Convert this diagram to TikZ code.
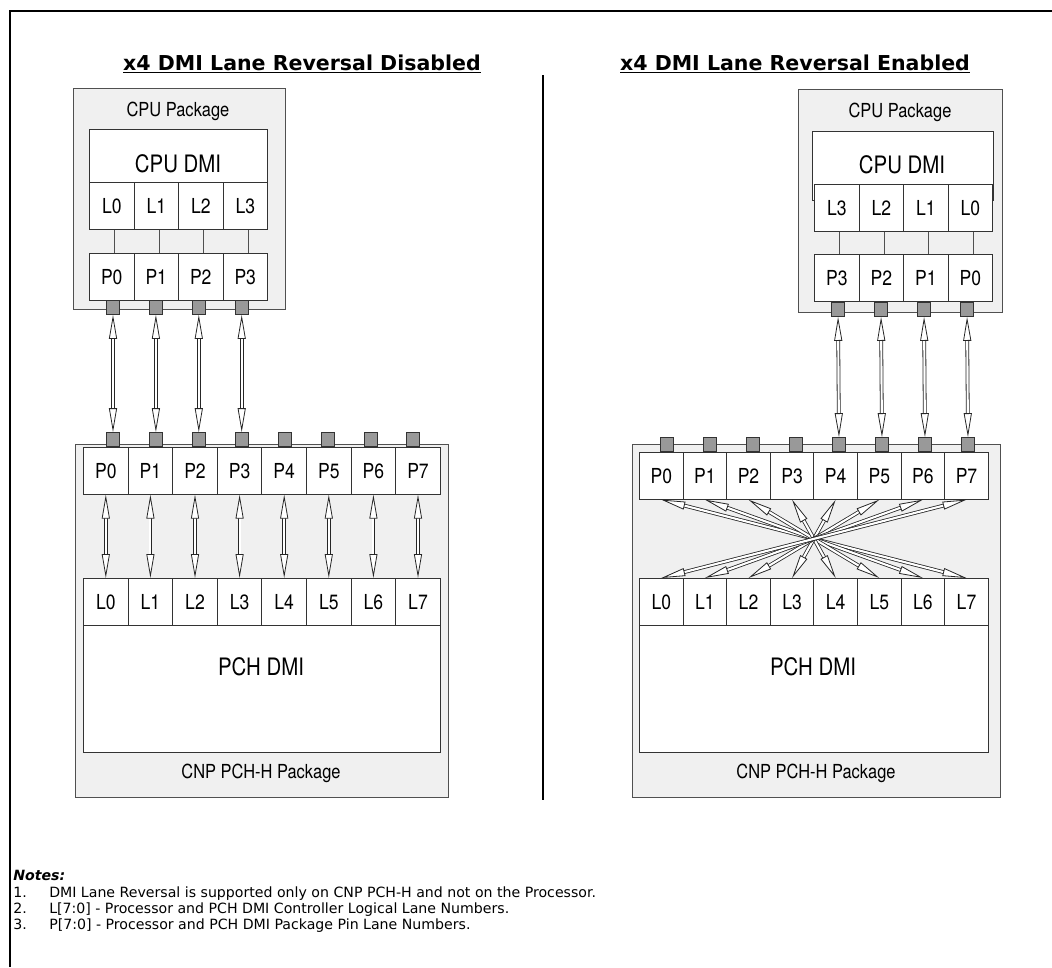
\documentclass[tikz,border=0pt]{standalone}
\usepackage{fontspec}
\setmainfont{Liberation Sans}
\newfontfamily\boxfont{TeX Gyre Heros}[FakeStretch=0.85]
\newfontfamily\headfont{DejaVu Sans}
\usetikzlibrary{arrows.meta,positioning}
\definecolor{pkgGray}{RGB}{240,240,240}
\definecolor{padGray}{RGB}{153,153,153}
\definecolor{edgeGray}{RGB}{80,80,80}
\tikzset{
    pkg/.style={rectangle, draw=edgeGray, fill=pkgGray, line width=1.1pt,
                anchor=north west, inner sep=0pt},
    dmi/.style={rectangle, draw=black!80, fill=white, line width=0.75pt,
                anchor=north west, inner sep=0pt},
    cell/.style={rectangle, draw=black!80, fill=white, line width=0.75pt,
                 anchor=north west, inner sep=0pt, minimum height=35pt,
                 minimum width=#1, font=\boxfont\fontsize{15.5}{18}\selectfont},
    pad/.style={rectangle, draw=black!80, fill=padGray, line width=0.6pt,
                minimum width=9.75pt, minimum height=10.5pt, inner sep=0pt},
    lbl/.style={font=\boxfont\fontsize{14.5}{17}\selectfont},
    big/.style={font=\boxfont\fontsize{18}{21}\selectfont},
    wire/.style={draw=edgeGray, line width=0.6pt},
    link/.style={draw=black!85, line width=0.6pt, double=white, double distance=1.6pt,
                 {Triangle[open, fill=white, length=18pt, width=6pt]}-{Triangle[open, fill=white, length=18pt, width=6pt]}},
    title/.style={font=\headfont\bfseries\fontsize{15.4}{18}\selectfont, anchor=base, inner sep=0pt},
    note/.style={font=\headfont\fontsize{10.6}{12}\selectfont, anchor=base west, inner sep=0pt}
}
\begin{document}
\begin{tikzpicture}[x=0.75pt, y=-0.75pt]
  \useasboundingbox (0,0) rectangle (1052,967);
  \draw[line width=2.2pt] (10,967) -- (10,11) -- (1052,11);

  % titles and divider
  \node[title] (titleA) at (302,70) {\underline{x4 DMI Lane Reversal Disabled}};
  \node[title] (titleB) at (795,70) {\underline{x4 DMI Lane Reversal Enabled}};
  \coordinate (divTop) at (543,75);
  \coordinate (divBot) at (543,800);
  \draw[line width=2.2pt] (divTop) -- (divBot);

  % left: CPU package
  \node[pkg, minimum width=159pt, minimum height=165.75pt] (cpuA) at (73,88) {};
  \node[lbl] (cpuAtxt) at (178,111) {CPU Package};
  \node[dmi, minimum width=133.5pt, minimum height=39.75pt] (cpuAdmi) at (89,129) {};
  \node[big] (cpuAdmitxt) at (178,164) {CPU DMI};
  \foreach \i in {0,...,3} {
    \node[cell=33.4pt] (cpuAL\i) at ({89+44.5*\i},182) {L\i};
    \node[cell=33.4pt] (cpuAP\i) at ({89+44.5*\i},253) {P\i};
    \draw[wire] ([xshift=2pt]cpuAL\i.south) -- ([xshift=2pt]cpuAP\i.north);
    \node[pad, anchor=north] (cpuApad\i) at ({113+42.9*\i},300) {};
  }

  % left: PCH package
  \node[pkg, minimum width=279.75pt, minimum height=264.75pt] (pchA) at (75,444) {};
  \node[dmi, minimum width=267.75pt, minimum height=95.25pt] (pchAdmi) at (83,625) {};
  \node[big] (pchAdmitxt) at (261,667) {PCH DMI};
  \node[lbl] (pchAtxt) at (261,773) {CNP PCH-H Package};
  \foreach \i in {0,...,7} {
    \node[cell=33.45pt] (pchAP\i) at ({83+44.6*\i},447) {P\i};
    \node[cell=33.45pt] (pchAL\i) at ({83+44.6*\i},578) {L\i};
    \node[pad, anchor=south] (pchApad\i) at ({113+42.9*\i},447) {};
    \draw[link] (pchAP\i) -- (pchAL\i);
  }
  \foreach \i in {0,...,3}
    \draw[link] (cpuApad\i) -- (pchApad\i);

  % right: CPU package
  \node[pkg, minimum width=153pt, minimum height=167.25pt] (cpuB) at (798,89) {};
  \node[lbl] (cpuBtxt) at (900,112) {CPU Package};
  \node[dmi, minimum width=135.75pt, minimum height=51.75pt] (cpuBdmi) at (812,131) {};
  \node[big] (cpuBdmitxt) at (902,165) {CPU DMI};
  \foreach \k [evaluate=\k as \n using int(3-\k)] in {0,...,3} {
    \node[cell=33.4pt] (cpuBL\n) at ({814+44.5*\k},184) {L\n};
    \node[cell=33.4pt] (cpuBP\n) at ({814+44.5*\k},254) {P\n};
    \draw[wire] ([xshift=2pt]cpuBL\n.south) -- ([xshift=2pt]cpuBP\n.north);
    \node[pad, anchor=north] (cpuBpad\n) at ({838+43*\k},302) {};
  }

  % right: PCH package
  \node[pkg, minimum width=276pt, minimum height=264.75pt] (pchB) at (632,444) {};
  \node[dmi, minimum width=261.75pt, minimum height=95.25pt] (pchBdmi) at (639,625) {};
  \node[big] (pchBdmitxt) at (813,667) {PCH DMI};
  \node[lbl] (pchBtxt) at (816,773) {CNP PCH-H Package};
  \foreach \i in {0,...,7} {
    \node[cell=32.7pt] (pchBP\i) at ({639+43.6*\i},452) {P\i};
    \node[cell=32.7pt] (pchBL\i) at ({639+43.6*\i},578) {L\i};
    \node[pad, anchor=south] (pchBpad\i) at ({667+43*\i},452) {};
  }
  \foreach \i [evaluate=\i as \j using int(7-\i)] in {0,...,7}
    \draw[link] (pchBP\i.south) -- (pchBL\j.north);
  \foreach \k [evaluate=\k as \n using int(3-\k), evaluate=\k as \m using int(4+\k)] in {0,...,3}
    \draw[link] (cpuBpad\n) -- (pchBpad\m);

  % notes
  \node[note, font=\headfont\bfseries\itshape\fontsize{10.6}{12}\selectfont] (notes) at (13,880) {Notes:};
  \node[note] (n1) at (13,897) {1.};
  \node[note] (n1t) at (49,897) {DMI Lane Reversal is supported only on CNP PCH-H and not on the Processor.};
  \node[note] (n2) at (13,913) {2.};
  \node[note] (n2t) at (49,913) {L[7:0] - Processor and PCH DMI Controller Logical Lane Numbers.};
  \node[note] (n3) at (13,929) {3.};
  \node[note] (n3t) at (49,929) {P[7:0] - Processor and PCH DMI Package Pin Lane Numbers.};
\end{tikzpicture}
\end{document}
